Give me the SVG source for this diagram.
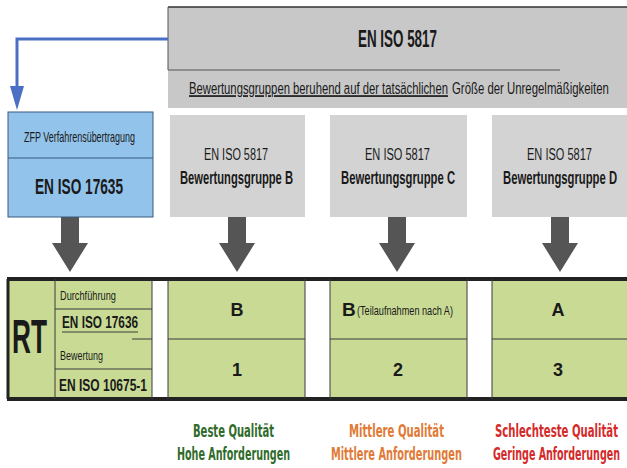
<svg xmlns="http://www.w3.org/2000/svg" width="627" height="468" viewBox="0 0 627 468">
<defs>
<style>
.n{font-family:"Liberation Sans",Arial,sans-serif;fill:#1a1a1a}
.b{font-weight:bold}
.q{font-family:"DejaVu Sans Condensed","DejaVu Sans",sans-serif;font-weight:bold;font-size:17px}
.gray{fill:#d3d3d3}
.green{fill:#c9da95}
.ln{stroke:#3a3a3a;stroke-width:1;fill:none}
.arr{fill:#555555}
</style>
</defs>
<rect width="627" height="468" fill="#ffffff"/>

<g id="top">
<rect x="168" y="7" width="459" height="101" fill="#c8c8c8"/>
<line x1="168" y1="7" x2="627" y2="7" stroke="#333" stroke-width="1.5"/>
<line x1="168" y1="7" x2="168" y2="70" stroke="#555" stroke-width="1"/>
<line x1="168" y1="70" x2="560" y2="70" stroke="#555" stroke-width="1"/>
<text class="n b" transform="translate(358,47) scale(0.58,1)" font-size="24" textLength="136.2" lengthAdjust="spacingAndGlyphs">EN ISO 5817</text>
<text class="n" transform="translate(189,94) scale(0.63,1)" font-size="17" textLength="411" lengthAdjust="spacingAndGlyphs" text-decoration="underline">Bewertungsgruppen beruhend auf der tatsächlichen</text>
<text class="n" transform="translate(452,94) scale(0.63,1)" font-size="17" textLength="249" lengthAdjust="spacingAndGlyphs">Größe der Unregelmäßigkeiten</text>
</g>

<g id="connectors">
<path d="M168,39 H17 V100" stroke="#4a6fc4" stroke-width="3" fill="none"/>
<path d="M10,86 L24,86 L17,110 Z" fill="#4a6fc4"/>
<path class="arr" d="M61,217 H79 V243 H88 L70,272 L52,243 H61 Z"/>
<path class="arr" d="M228,217 H246 V243 H255 L237,272 L219,243 H228 Z"/>
<path class="arr" d="M388,217 H406 V243 H415 L397,272 L379,243 H388 Z"/>
<path class="arr" d="M551,217 H569 V243 H578 L560,272 L542,243 H551 Z"/>
</g>

<g id="zfp">
<rect x="8" y="112" width="145" height="105" fill="#92c3ea" stroke="#3a5a80" stroke-width="1"/>
<line x1="8" y1="158" x2="153" y2="158" stroke="#3a5a80" stroke-width="1"/>
<text class="n" transform="translate(24,142) scale(0.65,1)" font-size="14" textLength="170.8" lengthAdjust="spacingAndGlyphs">ZFP Verfahrensübertragung</text>
<text class="n b" transform="translate(35,194) scale(0.63,1)" font-size="22" textLength="139.7" lengthAdjust="spacingAndGlyphs">EN ISO 17635</text>
</g>

<g id="groupB">
<rect class="gray" x="170" y="115" width="135" height="102"/>
<text class="n" transform="translate(204,160) scale(0.65,1)" font-size="17" textLength="98.5" lengthAdjust="spacingAndGlyphs">EN ISO 5817</text>
<text class="n b" transform="translate(180,184) scale(0.63,1)" font-size="18" textLength="179.4" lengthAdjust="spacingAndGlyphs">Bewertungsgruppe B</text>
</g>
<g id="groupC">
<rect class="gray" x="330" y="115" width="137" height="102"/>
<text class="n" transform="translate(365,160) scale(0.65,1)" font-size="17" textLength="100" lengthAdjust="spacingAndGlyphs">EN ISO 5817</text>
<text class="n b" transform="translate(341,184) scale(0.63,1)" font-size="18" textLength="181" lengthAdjust="spacingAndGlyphs">Bewertungsgruppe C</text>
</g>
<g id="groupD">
<rect class="gray" x="492" y="115" width="135" height="102"/>
<text class="n" transform="translate(527,160) scale(0.65,1)" font-size="17" textLength="100" lengthAdjust="spacingAndGlyphs">EN ISO 5817</text>
<text class="n b" transform="translate(503,184) scale(0.63,1)" font-size="18" textLength="181" lengthAdjust="spacingAndGlyphs">Bewertungsgruppe D</text>
</g>

<g id="rt">
<rect class="green" x="7" y="279" width="145" height="120"/>
<rect class="green" x="168" y="279" width="137" height="120"/>
<rect class="green" x="330" y="279" width="137" height="120"/>
<rect class="green" x="492" y="279" width="135" height="120"/>
<line x1="7" y1="279" x2="627" y2="279" stroke="#222" stroke-width="4"/>
<line x1="7" y1="399" x2="627" y2="399" stroke="#222" stroke-width="4"/>
<line x1="8" y1="279" x2="8" y2="399" stroke="#222" stroke-width="3"/>
<line class="ln" x1="55" y1="279" x2="55" y2="399"/>
<line class="ln" x1="152" y1="279" x2="152" y2="399" stroke-width="1.5"/>
<line class="ln" x1="168" y1="279" x2="168" y2="399" stroke-width="1.5"/>
<line class="ln" x1="305" y1="279" x2="305" y2="399"/>
<line class="ln" x1="330" y1="279" x2="330" y2="399"/>
<line class="ln" x1="467" y1="279" x2="467" y2="399"/>
<line class="ln" x1="492" y1="279" x2="492" y2="399" stroke-width="1.5"/>
<line class="ln" x1="55" y1="309" x2="152" y2="309"/>
<line class="ln" x1="62" y1="332" x2="138" y2="332"/>
<line class="ln" x1="132" y1="339" x2="152" y2="339"/>
<line class="ln" x1="55" y1="369" x2="152" y2="369"/>
<line class="ln" x1="168" y1="339" x2="305" y2="339"/>
<line class="ln" x1="330" y1="339" x2="467" y2="339"/>
<line class="ln" x1="492" y1="339" x2="627" y2="339"/>
<text class="n b" transform="translate(12,353) scale(0.55,1)" font-size="48" textLength="63.6" lengthAdjust="spacingAndGlyphs">RT</text>
<text class="n" transform="translate(60,300) scale(0.65,1)" font-size="13" textLength="86" lengthAdjust="spacingAndGlyphs">Durchführung</text>
<text class="n b" transform="translate(62,328) scale(0.68,1)" font-size="17" textLength="111.8" lengthAdjust="spacingAndGlyphs">EN ISO 17636</text>
<text class="n" transform="translate(60,360) scale(0.65,1)" font-size="13" textLength="66" lengthAdjust="spacingAndGlyphs">Bewertung</text>
<text class="n b" transform="translate(59,391) scale(0.68,1)" font-size="17" textLength="129.4" lengthAdjust="spacingAndGlyphs">EN ISO 10675-1</text>
<text class="n b" x="237" y="316" font-size="18" text-anchor="middle">B</text>
<text class="n b" x="237" y="376" font-size="18" text-anchor="middle">1</text>
<text class="n b" x="342" y="316" font-size="19">B</text>
<text class="n" transform="translate(357,315) scale(0.65,1)" font-size="12" textLength="147.7" lengthAdjust="spacingAndGlyphs">(Teilaufnahmen nach A)</text>
<text class="n b" x="398" y="376" font-size="18" text-anchor="middle">2</text>
<text class="n b" x="558" y="316" font-size="18" text-anchor="middle">A</text>
<text class="n b" x="558" y="376" font-size="18" text-anchor="middle">3</text>
</g>

<g id="labels">
<text class="q" transform="translate(193,437) scale(0.62,1)" fill="#2f6b2a" textLength="130.6" lengthAdjust="spacingAndGlyphs">Beste Qualität</text>
<text class="q" transform="translate(177,460) scale(0.62,1)" fill="#2f6b2a" textLength="182.3" lengthAdjust="spacingAndGlyphs">Hohe Anforderungen</text>
<text class="q" transform="translate(349,437) scale(0.62,1)" fill="#e07a36" textLength="153.2" lengthAdjust="spacingAndGlyphs">Mittlere Qualität</text>
<text class="q" transform="translate(331,460) scale(0.62,1)" fill="#e07a36" textLength="211.3" lengthAdjust="spacingAndGlyphs">Mittlere Anforderungen</text>
<text class="q" transform="translate(495,437) scale(0.62,1)" fill="#d42a2a" textLength="198.4" lengthAdjust="spacingAndGlyphs">Schlechteste Qualität</text>
<text class="q" transform="translate(493,460) scale(0.62,1)" fill="#d42a2a" textLength="204.8" lengthAdjust="spacingAndGlyphs">Geringe Anforderungen</text>
</g>
</svg>
